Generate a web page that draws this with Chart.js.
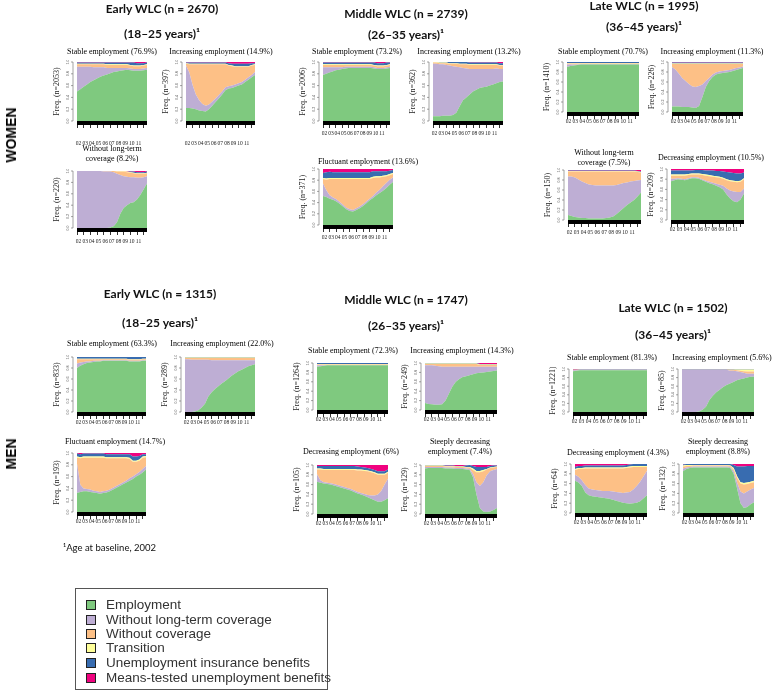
<!DOCTYPE html>
<html><head><meta charset="utf-8">
<script src="https://cdn.jsdelivr.net/npm/chart.js@4.4.0/dist/chart.umd.min.js"></script>
<style>
html,body{margin:0;padding:0;background:#fff}
body{width:778px;height:693px;position:relative;overflow:hidden}
.gt,.pt,.side,.li,#foot{will-change:transform}
.gt{position:absolute;width:240px;height:14px;text-align:center;font-family:Lato,sans-serif;font-weight:bold;font-size:12px;color:#111;white-space:nowrap;line-height:14px}
.pt{position:absolute;width:200px;height:10px;text-align:center;font-family:"Liberation Serif",serif;font-size:8px;color:#000;white-space:nowrap;line-height:10px}
.side{position:absolute;font-family:"Liberation Sans",Arial,sans-serif;font-weight:bold;font-size:14px;color:#000;transform:translate(-50%,-50%) rotate(-90deg);white-space:nowrap;line-height:1}
.cw{position:absolute}
#legend{position:absolute;left:75px;top:588px;width:251px;height:100px;border:1.5px solid #555;background:#fff}
.li{position:absolute;left:0;font-family:"Liberation Sans",Arial,sans-serif;font-size:13.5px;color:#333;white-space:nowrap;line-height:1}
.sq{position:absolute;width:8px;height:8px;border:1px solid #222}
#foot{position:absolute;left:63px;top:542px;height:12px;line-height:12px;font-family:Lato,sans-serif;font-size:9.5px;color:#111;white-space:nowrap}
</style></head><body>
<script>
// ---------- shared data ----------
const states=['Employment','Without long-term coverage','Without coverage','Transition','Unemployment insurance benefits','Means-tested unemployment benefits'];
const stateColors=['#7FC97F','#BEAED4','#FDC086','#FFFF99','#386CB0','#F0027F'];
const halfYears=[0,0.5,1,1.5,2,2.5,3,3.5,4,4.5,5,5.5,6,6.5,7,7.5,8,8.5,9,9.5,10,10.5];
const yearLabels=['02','03','04','05','06','07','08','09','10','11'];
const yTickValues=[0,0.2,0.4,0.6,0.8,1.0];

// ---------- series: [employment, without LT coverage, without coverage, transition, UI benefits, means-tested] ----------
const wEarlyStable=[
[.50,.54,.58,.62,.66,.69,.72,.75,.77,.79,.81,.83,.84,.85,.86,.87,.86,.85,.85,.85,.86,.87],
[.42,.38,.34,.30,.26,.22,.19,.16,.14,.11,.09,.07,.06,.05,.04,.03,.03,.03,.03,.03,.03,.03],
[.04,.04,.04,.04,.04,.05,.05,.05,.05,.05,.05,.05,.05,.05,.05,.05,.05,.05,.05,.05,.05,.05],
[.01,.01,.01,.01,.01,.01,.01,.01,.01,.01,.01,.01,.01,.01,.01,.01,.01,.01,.01,.01,.01,.01],
[.02,.02,.02,.02,.02,.02,.02,.02,.02,.03,.03,.03,.03,.03,.03,.03,.04,.05,.04,.04,.03,.03],
[.01,.01,.01,.01,.01,.01,.01,.01,.01,.01,.01,.01,.01,.01,.01,.01,.01,.01,.02,.02,.02,.01]];
const wEarlyInc=[
[.22,.22,.21,.20,.18,.17,.16,.20,.26,.32,.38,.45,.52,.55,.56,.58,.60,.62,.66,.70,.74,.78],
[.72,.60,.40,.25,.17,.12,.10,.08,.07,.06,.06,.05,.05,.04,.04,.04,.04,.04,.04,.04,.04,.05],
[.03,.14,.35,.51,.61,.67,.70,.68,.63,.58,.52,.46,.39,.35,.33,.30,.28,.26,.22,.18,.16,.12],
[.01,.01,.01,.01,.01,.01,.01,.01,.01,.01,.01,.01,.01,.01,.01,.01,.01,.01,.01,.01,.01,.01],
[.01,.02,.02,.02,.02,.02,.02,.02,.02,.02,.02,.02,.02,.03,.03,.04,.04,.04,.04,.04,.03,.02],
[.01,.01,.01,.01,.01,.01,.01,.01,.01,.01,.01,.01,.01,.02,.03,.03,.03,.03,.03,.03,.02,.02]];
const wEarlyNoLT=[
[0,0,0,0,0,0,0,0,0,0,.01,.03,.10,.25,.35,.40,.44,.45,.50,.58,.68,.78],
[1,1,1,1,1,1,1,1,.99,.99,.98,.95,.85,.68,.56,.50,.45,.44,.38,.30,.21,.13],
[0,0,0,0,0,0,0,0,.01,.01,.01,.02,.04,.06,.08,.08,.08,.07,.07,.07,.06,.05],
[0,0,0,0,0,0,0,0,0,0,0,0,.01,.01,.01,.01,.01,.01,.01,.01,.01,.01],
[0,0,0,0,0,0,0,0,0,0,0,0,0,0,0,0,.01,.02,.02,.02,.02,.02],
[0,0,0,0,0,0,0,0,0,0,0,0,0,0,0,.01,.01,.01,.02,.02,.02,.01]];
const wMiddleStable=[
[.78,.80,.82,.84,.86,.87,.88,.89,.90,.90,.90,.90,.90,.90,.90,.90,.89,.88,.88,.88,.89,.90],
[.13,.11,.09,.07,.05,.04,.03,.03,.02,.02,.02,.02,.02,.02,.02,.02,.02,.02,.02,.02,.02,.02],
[.04,.04,.04,.04,.04,.04,.04,.03,.03,.03,.03,.03,.03,.03,.03,.03,.03,.03,.03,.03,.03,.03],
[.01,.01,.01,.01,.01,.01,.01,.01,.01,.01,.01,.01,.01,.01,.01,.01,.01,.01,.01,.01,.01,.01],
[.03,.03,.03,.03,.03,.03,.03,.03,.03,.03,.03,.03,.03,.03,.03,.03,.04,.04,.04,.04,.04,.03],
[.01,.01,.01,.01,.01,.01,.01,.01,.01,.01,.01,.01,.01,.01,.01,.01,.01,.02,.02,.02,.01,.01]];
const wMiddleInc=[
[.08,.08,.08,.09,.09,.09,.10,.14,.25,.35,.40,.45,.50,.53,.56,.57,.58,.60,.62,.64,.66,.67],
[.89,.89,.88,.87,.86,.85,.83,.78,.66,.55,.49,.43,.38,.35,.32,.31,.30,.28,.26,.25,.22,.21],
[.02,.02,.02,.02,.03,.03,.04,.05,.05,.06,.07,.07,.07,.07,.07,.07,.07,.07,.07,.06,.06,.06],
[.01,.01,.01,.01,.01,.01,.01,.01,.01,.01,.01,.01,.01,.01,.01,.01,.01,.01,.01,.01,.01,.01],
[0,0,.01,.01,.01,.02,.02,.02,.03,.03,.03,.03,.03,.03,.03,.03,.03,.03,.03,.03,.03,.03],
[0,0,0,0,0,0,0,0,0,0,0,.01,.01,.01,.01,.01,.01,.01,.01,.01,.02,.02]];
const wMiddleFluct=[
[.52,.50,.47,.45,.42,.38,.33,.28,.25,.24,.27,.30,.34,.39,.44,.48,.53,.57,.61,.66,.72,.77],
[.22,.12,.06,.04,.04,.03,.03,.03,.03,.03,.03,.03,.03,.03,.03,.04,.05,.06,.08,.09,.09,.08],
[.08,.19,.29,.33,.36,.41,.46,.51,.54,.55,.52,.49,.45,.40,.35,.32,.27,.22,.17,.12,.08,.06],
[.02,.02,.02,.02,.02,.02,.02,.02,.02,.02,.02,.02,.02,.02,.02,.02,.02,.02,.02,.02,.02,.02],
[.09,.11,.11,.10,.10,.10,.10,.10,.10,.10,.10,.10,.10,.10,.10,.10,.09,.09,.08,.07,.06,.05],
[.07,.06,.05,.06,.06,.06,.06,.06,.06,.06,.06,.06,.06,.06,.06,.04,.04,.04,.04,.04,.03,.02]];
const wLateStable=[
[.90,.92,.93,.94,.95,.95,.95,.95,.95,.95,.95,.95,.95,.95,.95,.95,.95,.95,.95,.95,.95,.95],
[.05,.03,.02,.01,.01,.01,.01,.01,.01,.01,.01,.01,.01,.01,.01,.01,.01,.01,.01,.01,.01,.01],
[.02,.02,.02,.02,.01,.01,.01,.01,.01,.01,.01,.01,.01,.01,.01,.01,.01,.01,.01,.01,.01,.01],
[.01,.01,.01,.01,.01,.01,.01,.01,.01,.01,.01,.01,.01,.01,.01,.01,.01,.01,.01,.01,.01,.01],
[.02,.02,.02,.02,.02,.02,.02,.02,.02,.02,.02,.02,.02,.02,.02,.02,.02,.02,.02,.02,.02,.02],
[0,0,0,0,0,0,0,0,0,0,0,0,0,0,0,0,0,0,0,0,0,0]];
const wLateInc=[
[.11,.11,.11,.10,.10,.10,.09,.08,.12,.30,.50,.62,.70,.75,.77,.78,.79,.80,.82,.84,.86,.88],
[.79,.74,.66,.58,.52,.46,.42,.42,.40,.25,.12,.06,.05,.04,.04,.04,.04,.04,.04,.04,.03,.03],
[.06,.11,.19,.28,.34,.40,.45,.46,.44,.41,.34,.28,.21,.17,.15,.14,.13,.12,.10,.08,.07,.05],
[.01,.01,.01,.01,.01,.01,.01,.01,.01,.01,.01,.01,.01,.01,.01,.01,.01,.01,.01,.01,.01,.01],
[.02,.02,.02,.02,.02,.02,.02,.02,.02,.02,.02,.02,.02,.02,.02,.02,.02,.02,.02,.02,.02,.02],
[.01,.01,.01,.01,.01,.01,.01,.01,.01,.01,.01,.01,.01,.01,.01,.01,.01,.01,.01,.01,.01,.01]];
const wLateNoLT=[
[.10,.08,.06,.05,.04,.04,.03,.03,.03,.03,.03,.04,.05,.07,.12,.18,.24,.30,.35,.40,.47,.55],
[.77,.79,.79,.76,.73,.70,.68,.67,.66,.66,.66,.65,.64,.62,.58,.54,.50,.45,.42,.38,.32,.25],
[.10,.10,.12,.16,.20,.23,.26,.27,.28,.28,.28,.28,.28,.28,.27,.25,.23,.22,.20,.19,.17,.15],
[.01,.01,.01,.01,.01,.01,.01,.01,.01,.01,.01,.01,.01,.01,.01,.01,.01,.01,.01,.01,.01,.01],
[.01,.01,.01,.01,.01,.01,.01,.01,.01,.01,.01,.01,.01,.01,.01,.01,.01,.01,.01,.01,.01,.01],
[.01,.01,.01,.01,.01,.01,.01,.01,.01,.01,.01,.01,.01,.01,.01,.01,.01,.01,.01,.01,.02,.03]];
const wLateDec=[
[.76,.78,.80,.79,.78,.80,.82,.82,.81,.78,.75,.72,.70,.67,.64,.60,.50,.42,.37,.35,.40,.52],
[.05,.03,.02,.02,.02,.02,.02,.02,.02,.02,.02,.03,.03,.04,.05,.07,.12,.16,.19,.20,.15,.10],
[.06,.06,.05,.06,.07,.06,.05,.05,.06,.08,.10,.11,.12,.13,.14,.14,.16,.18,.19,.19,.20,.18],
[.02,.02,.02,.02,.02,.02,.02,.02,.02,.02,.02,.02,.02,.02,.02,.02,.02,.02,.02,.02,.02,.02],
[.08,.08,.08,.08,.08,.07,.06,.07,.07,.08,.08,.09,.10,.10,.11,.12,.14,.15,.15,.15,.14,.11],
[.03,.03,.03,.03,.03,.03,.03,.02,.02,.02,.03,.03,.03,.04,.04,.05,.06,.07,.08,.09,.09,.07]];
const mEarlyStable=[
[.80,.84,.87,.89,.90,.91,.92,.92,.93,.93,.93,.93,.93,.93,.93,.93,.92,.92,.92,.92,.93,.93],
[.08,.06,.04,.03,.02,.02,.01,.01,.01,.01,.01,.01,.01,.01,.01,.01,.01,.01,.01,.01,.01,.01],
[.08,.06,.05,.04,.04,.03,.03,.03,.02,.02,.02,.02,.02,.02,.02,.02,.02,.02,.02,.02,.02,.02],
[.01,.01,.01,.01,.01,.01,.01,.01,.01,.01,.01,.01,.01,.01,.01,.01,.01,.01,.01,.01,.01,.01],
[.03,.03,.03,.03,.03,.03,.03,.03,.03,.03,.03,.03,.03,.03,.03,.03,.04,.04,.04,.04,.03,.03],
[0,0,0,0,0,0,0,0,0,0,0,0,0,0,0,0,0,0,0,0,0,0]];
const mEarlyInc=[
[0,0,0,.01,.03,.08,.15,.28,.36,.42,.47,.52,.56,.61,.66,.70,.74,.77,.80,.83,.85,.87],
[.96,.96,.95,.94,.92,.87,.80,.67,.58,.52,.47,.42,.38,.33,.28,.24,.20,.17,.14,.11,.09,.07],
[.02,.02,.03,.03,.03,.03,.03,.03,.04,.04,.04,.04,.04,.04,.04,.04,.04,.04,.04,.04,.04,.04],
[.01,.01,.01,.01,.01,.01,.01,.01,.01,.01,.01,.01,.01,.01,.01,.01,.01,.01,.01,.01,.01,.01],
[.01,.01,.01,.01,.01,.01,.01,.01,.01,.01,.01,.01,.01,.01,.01,.01,.01,.01,.01,.01,.01,.01],
[0,0,0,0,0,0,0,0,0,0,0,0,0,0,0,0,0,0,0,0,0,0]];
const mEarlyFluct=[
[.32,.34,.35,.35,.34,.33,.32,.31,.32,.33,.35,.38,.41,.44,.47,.50,.53,.56,.60,.63,.67,.72],
[.50,.12,.05,.04,.04,.03,.03,.03,.03,.03,.03,.03,.03,.03,.03,.03,.04,.04,.04,.05,.06,.06],
[.10,.45,.52,.53,.54,.56,.57,.58,.57,.55,.53,.50,.47,.44,.41,.38,.33,.25,.21,.19,.19,.15],
[.02,.02,.02,.02,.02,.02,.02,.02,.02,.02,.02,.02,.02,.02,.02,.02,.02,.02,.02,.02,.02,.02],
[.05,.05,.05,.05,.05,.05,.05,.05,.05,.05,.05,.05,.05,.05,.05,.05,.06,.07,.07,.06,.04,.03],
[.01,.02,.01,.01,.01,.01,.01,.01,.01,.02,.02,.02,.02,.02,.02,.02,.02,.06,.06,.05,.02,.02]];
const mMiddleStable=[
[.92,.93,.94,.95,.95,.95,.95,.95,.95,.95,.95,.95,.95,.95,.95,.95,.95,.95,.95,.95,.95,.95],
[.03,.02,.01,.01,.01,.01,.01,.01,.01,.01,.01,.01,.01,.01,.01,.01,.01,.01,.01,.01,.01,.01],
[.02,.02,.02,.01,.01,.01,.01,.01,.01,.01,.01,.01,.01,.01,.01,.01,.01,.01,.01,.01,.01,.01],
[.01,.01,.01,.01,.01,.01,.01,.01,.01,.01,.01,.01,.01,.01,.01,.01,.01,.01,.01,.01,.01,.01],
[.02,.02,.02,.02,.02,.02,.02,.02,.02,.02,.02,.02,.02,.02,.02,.02,.02,.02,.02,.02,.02,.02],
[0,0,0,0,0,0,0,0,0,0,0,0,0,0,0,0,0,0,0,0,0,0]];
const mMiddleInc=[
[.15,.13,.12,.11,.11,.12,.20,.35,.50,.60,.66,.70,.72,.74,.76,.78,.79,.80,.81,.82,.83,.84],
[.80,.82,.83,.83,.82,.80,.72,.57,.42,.32,.26,.22,.20,.18,.16,.14,.13,.12,.11,.10,.09,.08],
[.03,.03,.03,.04,.05,.06,.06,.06,.06,.06,.06,.06,.06,.06,.06,.06,.04,.04,.04,.04,.04,.04],
[.01,.01,.01,.01,.01,.01,.01,.01,.01,.01,.01,.01,.01,.01,.01,.01,.01,.01,.01,.01,.01,.01],
[.01,.01,.01,.01,.01,.01,.01,.01,.01,.01,.01,.01,.01,.01,.01,.01,.01,.01,.01,.01,.01,.01],
[0,0,0,0,0,0,0,0,0,0,0,0,0,0,0,0,.02,.02,.02,.02,.02,.02]];
const mMiddleDec=[
[.66,.64,.62,.61,.60,.58,.56,.54,.52,.50,.48,.45,.42,.40,.37,.34,.31,.28,.25,.25,.28,.32],
[.15,.05,.03,.03,.03,.03,.03,.03,.03,.03,.03,.03,.03,.03,.04,.05,.07,.10,.15,.22,.32,.40],
[.10,.22,.25,.26,.27,.29,.31,.33,.35,.37,.39,.42,.44,.46,.47,.48,.47,.45,.40,.33,.20,.12],
[.02,.02,.02,.02,.02,.02,.02,.02,.02,.02,.02,.02,.02,.02,.02,.02,.02,.02,.02,.02,.02,.02],
[.05,.05,.06,.06,.06,.06,.06,.06,.06,.06,.06,.06,.06,.05,.05,.05,.05,.05,.05,.05,.05,.05],
[.02,.02,.02,.02,.02,.02,.02,.02,.02,.02,.02,.02,.03,.04,.05,.06,.08,.10,.13,.13,.13,.09]];
const mMiddleSteep=[
[.93,.94,.94,.94,.94,.94,.93,.93,.93,.92,.92,.92,.91,.90,.75,.40,.12,.05,.04,.05,.08,.12],
[.03,.02,.02,.02,.02,.02,.02,.02,.02,.02,.02,.02,.02,.02,.07,.25,.45,.60,.75,.82,.82,.80],
[.02,.02,.02,.02,.02,.02,.02,.02,.02,.02,.02,.02,.02,.03,.08,.20,.28,.22,.12,.07,.05,.04],
[.01,.01,.01,.01,.01,.01,.01,.01,.01,.01,.01,.01,.01,.01,.03,.03,.03,.03,.01,.01,.01,.01],
[.01,.01,.01,.01,.01,.01,.01,.01,.01,.01,.01,.01,.03,.04,.05,.08,.08,.06,.04,.03,.03,.02],
[0,0,0,0,0,0,.01,.01,.01,.02,.02,.02,.01,0,.02,.04,.04,.04,.04,.02,.01,.01]];
const mLateStable=[
[.95,.96,.97,.97,.97,.97,.97,.97,.97,.97,.97,.97,.97,.97,.97,.97,.97,.97,.97,.97,.97,.97],
[.02,.01,.01,.01,.01,.01,.01,.01,.01,.01,.01,.01,.01,.01,.01,.01,.01,.01,.01,.01,.01,.01],
[.01,.01,.01,.01,.01,.01,.01,.01,.01,.01,.01,.01,.01,.01,.01,.01,.01,.01,.01,.01,.01,.01],
[0,0,0,0,0,0,0,0,0,0,0,0,0,0,0,0,0,0,0,0,0,0],
[.01,.01,.01,.01,.01,.01,.01,.01,.01,.01,.01,.01,.01,.01,.01,.01,.01,.01,.01,.01,.01,.01],
[.01,.01,0,0,0,0,0,0,0,0,0,0,0,0,0,0,0,0,0,0,0,0]];
const mLateInc=[
[0,0,0,0,0,.01,.05,.12,.28,.38,.46,.52,.58,.63,.66,.70,.74,.76,.78,.80,.82,.82],
[.98,.98,.98,.98,.98,.97,.93,.86,.70,.60,.52,.46,.40,.35,.30,.26,.21,.17,.13,.09,.07,.07],
[.01,.01,.01,.01,.01,.01,.01,.01,.01,.01,.01,.01,.01,.01,.02,.02,.02,.03,.04,.05,.05,.05],
[0,0,0,0,0,0,0,0,0,0,0,0,0,0,.01,.01,.02,.03,.04,.05,.05,.05],
[.01,.01,.01,.01,.01,.01,.01,.01,.01,.01,.01,.01,.01,.01,.01,.01,.01,.01,.01,.01,.01,.01],
[0,0,0,0,0,0,0,0,0,0,0,0,0,0,0,0,0,0,0,0,0,0]];
const mLateDec=[
[.66,.62,.55,.42,.36,.34,.33,.32,.31,.30,.29,.27,.25,.23,.21,.20,.19,.20,.21,.24,.30,.36],
[.12,.12,.12,.15,.14,.14,.14,.14,.14,.15,.16,.17,.18,.19,.20,.22,.24,.28,.34,.40,.45,.50],
[.10,.16,.23,.34,.41,.43,.44,.45,.46,.46,.46,.47,.48,.49,.50,.50,.50,.46,.39,.30,.19,.08],
[.02,.02,.02,.02,.02,.02,.02,.02,.02,.02,.02,.02,.02,.02,.02,.02,.02,.02,.02,.02,.02,.02],
[.04,.04,.04,.04,.04,.04,.04,.04,.04,.04,.04,.04,.04,.04,.04,.04,.04,.04,.04,.04,.04,.04],
[.06,.04,.04,.03,.03,.03,.03,.03,.03,.03,.03,.03,.03,.03,.03,.02,.01,0,0,0,0,0]];
const mLateSteep=[
[.85,.90,.92,.93,.93,.93,.93,.93,.93,.93,.93,.93,.93,.93,.92,.80,.50,.20,.10,.12,.18,.22],
[.06,.03,.02,.02,.02,.02,.02,.02,.02,.02,.02,.02,.02,.02,.02,.05,.12,.24,.30,.32,.30,.29],
[.04,.03,.02,.02,.02,.02,.02,.02,.02,.02,.02,.02,.02,.02,.02,.04,.10,.16,.18,.15,.13,.12],
[.02,.02,.02,.01,.01,.01,.01,.01,.01,.01,.01,.01,.01,.01,.01,.03,.03,.03,.03,.03,.03,.03],
[.02,.02,.02,.02,.02,.02,.02,.02,.02,.02,.02,.02,.02,.02,.03,.06,.20,.32,.34,.34,.32,.30],
[.01,0,0,0,0,0,0,0,0,0,0,0,0,0,0,.02,.05,.05,.05,.04,.04,.04]];

// ---------- labels ----------
const panelSeries=[wEarlyStable,wEarlyInc,wEarlyNoLT,wMiddleStable,wMiddleInc,wMiddleFluct,wLateStable,wLateInc,wLateNoLT,wLateDec,
  mEarlyStable,mEarlyInc,mEarlyFluct,mMiddleStable,mMiddleInc,mMiddleDec,mMiddleSteep,mLateStable,mLateInc,mLateDec,mLateSteep];
const panelTitles=[['Stable employment (76.9%)'],['Increasing employment (14.9%)'],['Without long-term','coverage (8.2%)'],
  ['Stable employment (73.2%)'],['Increasing employment (13.2%)'],['Fluctuant employment (13.6%)'],
  ['Stable employment (70.7%)'],['Increasing employment (11.3%)'],['Without long-term','coverage (7.5%)'],['Decreasing employment (10.5%)'],
  ['Stable employment (63.3%)'],['Increasing employment (22.0%)'],['Fluctuant employment (14.7%)'],
  ['Stable employment (72.3%)'],['Increasing employment (14.3%)'],['Decreasing employment (6%)'],['Steeply decreasing','employment (7.4%)'],
  ['Stable employment (81.3%)'],['Increasing employment (5.6%)'],['Decreasing employment (4.3%)'],['Steeply decreasing','employment (8.8%)']];
const panelN=[2053,397,220,2006,362,371,1410,226,150,209,833,289,193,1264,249,105,129,1221,85,64,132];
const groupTitles=[['Early WLC (n = 2670)','(18–25 years)¹'],['Middle WLC (n = 2739)','(26–35 years)¹'],['Late WLC (n = 1995)','(36–45 years)¹'],
  ['Early WLC (n = 1315)','(18–25 years)¹'],['Middle WLC (n = 1747)','(26–35 years)¹'],['Late WLC (n = 1502)','(36–45 years)¹']];

// ---------- layout (plot box x,y,w,h ; title centre x,y ; tick label gap) ----------
const panelBox=[
 [77,62,70,59,112,52,13],[186,62,69,59,221,52,13],[77,171,70,57,112,149,4],
 [323,62,67,59,357,52,3],[433,62,70,59,469,52,3],[323,169,70,56,368,162,3],
 [567,62,72,50,603,52,0],[672,62,71,50,712,52,0],[568,170,73,50,604,153,3],[671,169,73,51,711,158,0],
 [77,357,69,55,112,344,1],[185,357,70,55,222,344,1],[77,453,69,59,115,442,0],
 [317,363,71,47,353,351,0],[425,363,72,47,462,351,0],[317,465,71,49,351,452,0],[425,465,72,49,460,442,0],
 [573,369,74,43,612,358,0],[682,369,72,43,722,358,0],[575,464,72,49,618,453,0],[683,464,71,49,718,442,0]];
const groupPos=[[162,9,34],[406,14,35],[644,6,27],[160,294,323],[406,300,326],[673,308,335]];

function addBox(cls,txt,cx,cy,w,h){const d=document.createElement('div');d.className=cls;d.textContent=txt;
  d.style.left=Math.round(cx-w/2)+'px';d.style.top=Math.round(cy-h/2)+'px';document.body.appendChild(d);return d;}

groupTitles.forEach((g,i)=>{addBox('gt',g[0],groupPos[i][0],groupPos[i][1],240,14);addBox('gt',g[1],groupPos[i][0],groupPos[i][2],240,14);});
['WOMEN','MEN'].forEach((s,i)=>{const d=document.createElement('div');d.className='side';d.textContent=s;d.style.left='11px';d.style.top=(i?454:135)+'px';document.body.appendChild(d);});
const foot=document.createElement('div');foot.id='foot';foot.textContent='¹Age at baseline, 2002';document.body.appendChild(foot);

const deco={id:'deco',afterDraw(ch,args,opts){
  const {ctx,chartArea:a,scales:{x,y}}=ch;
  ctx.save();
  ctx.fillStyle='#000';ctx.fillRect(a.left,a.bottom,a.right-a.left,4);
  const ax=a.left-4;
  ctx.strokeStyle='#666';ctx.lineWidth=0.6;ctx.beginPath();
  ctx.moveTo(ax,y.getPixelForValue(0));ctx.lineTo(ax,y.getPixelForValue(1));
  yTickValues.forEach(v=>{const py=y.getPixelForValue(v);ctx.moveTo(ax,py);ctx.lineTo(ax-2,py);});
  ctx.stroke();
  ctx.fillStyle='#444';ctx.font='4px "Liberation Serif"';ctx.textAlign='center';ctx.textBaseline='middle';
  yTickValues.forEach(v=>{const py=y.getPixelForValue(v);ctx.save();ctx.translate(ax-5,py);ctx.rotate(-Math.PI/2);ctx.fillText(v.toFixed(1),0,0);ctx.restore();});
  ctx.fillStyle='#222';ctx.font='5.5px "Liberation Serif"';
  const ly=a.bottom+7+opts.gap+3;
  yearLabels.forEach((l,k)=>ctx.fillText(l,x.getPixelForValue(k)+1.5,ly));
  ctx.restore();
}};

panelSeries.forEach((series,i)=>{
  const [px,py,pw,ph,tx,ty,gap]=panelBox[i];
  panelTitles[i].forEach((t,k)=>addBox('pt',t,tx,ty+k*10,200,10));
  const yW=25,padR=2,padT=2,xH=7+gap+8;
  const div=document.createElement('div');div.className='cw';
  div.style.left=(px-yW)+'px';div.style.top=(py-padT)+'px';
  div.style.width=(pw+yW+padR)+'px';div.style.height=(ph+padT+xH)+'px';
  const c=document.createElement('canvas');div.appendChild(c);document.body.appendChild(div);
  new Chart(c,{type:'line',
    data:{datasets:series.map((arr,s)=>({label:states[s],data:arr.map((v,j)=>({x:halfYears[j],y:v})),
      backgroundColor:stateColors[s],borderColor:stateColors[s],borderWidth:0,pointRadius:0,tension:0,fill:s===0?'origin':'-1'}))},
    options:{responsive:true,maintainAspectRatio:false,animation:false,events:[],devicePixelRatio:1,
      layout:{padding:{top:padT,right:padR,left:0,bottom:0}},
      plugins:{legend:{display:false},tooltip:{enabled:false},title:{display:false},deco:{gap:gap}},
      scales:{
        x:{type:'linear',min:0,max:10.5,afterFit:s=>{s.height=xH;},
           ticks:{display:false,stepSize:1,includeBounds:false,autoSkip:false},
           grid:{display:true,drawOnChartArea:false,drawTicks:true,tickLength:7,color:'#000',lineWidth:0.8},
           border:{display:false}},
        y:{stacked:true,min:0,max:1,afterFit:s=>{s.width=yW;},
           ticks:{display:false,stepSize:0.2},grid:{display:false},border:{display:false},
           title:{display:true,text:'Freq. (n='+panelN[i]+')',color:'#222',font:{family:'Liberation Serif',size:8},padding:0}}
      }},
    plugins:[deco]});
});

// legend
const lg=document.createElement('div');lg.id='legend';document.body.appendChild(lg);
const legendRowY=[605,620,634,648,663,678];
states.forEach((s,i)=>{
  const sq=document.createElement('div');sq.className='sq';sq.style.background=stateColors[i];
  sq.style.left='10px';sq.style.top=Math.round(legendRowY[i]-5-589.5)+'px';lg.appendChild(sq);
  const t=document.createElement('div');t.className='li';t.textContent=s;
  t.style.left='30px';t.style.top=Math.round(legendRowY[i]-7-589.5)+'px';lg.appendChild(t);
});
</script>
</body></html>
